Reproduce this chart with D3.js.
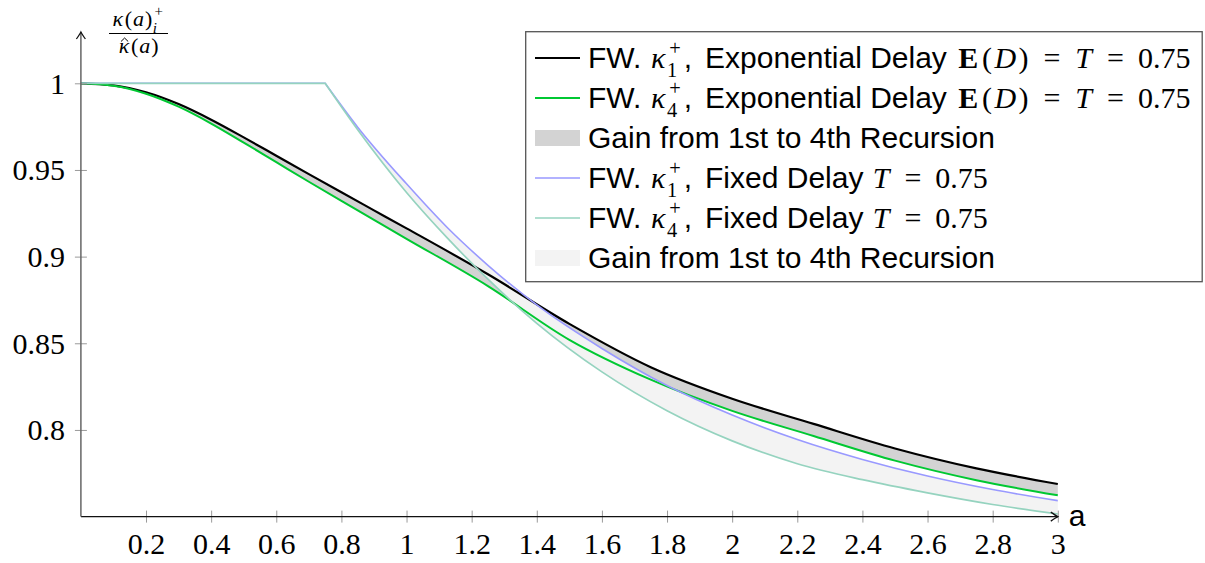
<!DOCTYPE html>
<html>
<head>
<meta charset="utf-8">
<script src="https://cdn.jsdelivr.net/npm/d3@7"></script>
<style>
  html, body { margin: 0; padding: 0; background: #fff; }
  svg { display: block; }
  text { white-space: pre; }
</style>
</head>
<body>
<svg id="chart" width="1205" height="563"></svg>
<script>
// ---- data ----------------------------------------------------------------
// Exponential delay, E(D) = T = 0.75 : 1st and 4th recursion
const aExp  = [0, 0.1, 0.2, 0.3, 0.4, 0.5, 0.6, 0.7, 0.8, 0.9, 1.0, 1.25, 1.5, 1.75, 2.0, 2.25, 2.5, 2.75, 3.0];
const expK1 = [1.0, 0.9988, 0.9948, 0.988, 0.979, 0.9688, 0.9582, 0.9476, 0.9371, 0.9267, 0.9163,
               0.8898, 0.8612, 0.8362, 0.818, 0.8035, 0.7893, 0.7778, 0.7688];
const expK4 = [1.0, 0.9986, 0.994, 0.9865, 0.9768, 0.9658, 0.9545, 0.9432, 0.9321, 0.9212, 0.9103,
               0.883, 0.852, 0.829, 0.811, 0.7965, 0.7823, 0.771, 0.7623];

// Fixed delay T = 0.75 : flat at 1 up to a = T, then decreasing
const aFix  = [0, 0.75, 0.85, 1.0, 1.125, 1.25, 1.4, 1.6, 1.8, 2.0, 2.2, 2.4, 2.6, 2.8, 3.0];
const fixK1 = [1.0, 1.0, 0.9747, 0.942, 0.9168, 0.895, 0.8721, 0.847, 0.8256, 0.8086, 0.7945, 0.783, 0.7734, 0.7656, 0.7592];
const fixK4 = [1.0, 1.0, 0.9732, 0.937, 0.9108, 0.887, 0.8615, 0.8335, 0.8111, 0.7937, 0.7805, 0.7713, 0.7637, 0.757, 0.7515];
const fixT  = 0.75;

const xTicks = [0.2, 0.4, 0.6, 0.8, 1, 1.2, 1.4, 1.6, 1.8, 2, 2.2, 2.4, 2.6, 2.8, 3];
const xTickLabels = ["0.2", "0.4", "0.6", "0.8", "1", "1.2", "1.4", "1.6", "1.8", "2", "2.2", "2.4", "2.6", "2.8", "3"];
const yTicks = [0.8, 0.85, 0.9, 0.95, 1];
const yTickLabels = ["0.8", "0.85", "0.9", "0.95", "1"];

// ---- styling ---------------------------------------------------------------
const SANS  = "'Liberation Sans', Arial, Helvetica, sans-serif";
const SERIF = "'Liberation Serif', 'Times New Roman', serif";
const C_K1EXP = "#000000";
const C_K4EXP = "#00c832";
const C_K1FIX = "#9999ff";
const C_K4FIX = "#95d3bf";
const C_GAIN_EXP = "#d3d3d3";
const C_GAIN_FIX = "#f3f3f3";

const svg = d3.select("#chart");

const x = d3.scaleLinear().domain([0, 3]).range([80.9, 1057.8]);
const y = d3.scaleLinear().domain([0.75, 1.0]).range([516.6, 83.3]);

const zip = (xs, ys) => xs.map((a, i) => ({ a, v: ys[i] }));
const expRows = aExp.map((a, i) => ({ a, k1: expK1[i], k4: expK4[i] }));
const fixRows = aFix.map((a, i) => ({ a, k1: fixK1[i], k4: fixK4[i] })).filter(d => d.a >= fixT);

const smoothLine = d3.line().x(d => x(d.a)).y(d => y(d.v)).curve(d3.curveMonotoneX);

// fixed-delay curve: straight plateau up to T, smooth decay afterwards
function fixedPath(xs, ys) {
  const pts = zip(xs, ys);
  const head = pts.filter(d => d.a <= fixT);
  const tail = pts.filter(d => d.a >= fixT);
  const plateau = d3.line().x(d => x(d.a)).y(d => y(d.v)).curve(d3.curveLinear)(head);
  return plateau + "L" + smoothLine(tail).slice(1);
}

// ---- gain areas ------------------------------------------------------------
svg.append("path")
  .attr("d", d3.area().x(d => x(d.a)).y0(d => y(d.k4)).y1(d => y(d.k1)).curve(d3.curveMonotoneX)(expRows))
  .attr("fill", C_GAIN_EXP);

svg.append("path")
  .attr("d", d3.area().x(d => x(d.a)).y0(d => y(d.k4)).y1(d => y(d.k1)).curve(d3.curveMonotoneX)(fixRows))
  .attr("fill", C_GAIN_FIX);

// ---- curves ----------------------------------------------------------------
svg.append("path").attr("d", smoothLine(zip(aExp, expK1)))
  .attr("fill", "none").attr("stroke", C_K1EXP).attr("stroke-width", 2.2);
svg.append("path").attr("d", smoothLine(zip(aExp, expK4)))
  .attr("fill", "none").attr("stroke", C_K4EXP).attr("stroke-width", 2);
svg.append("path").attr("d", fixedPath(aFix, fixK1))
  .attr("fill", "none").attr("stroke", C_K1FIX).attr("stroke-width", 1.6);
svg.append("path").attr("d", fixedPath(aFix, fixK4))
  .attr("fill", "none").attr("stroke", C_K4FIX).attr("stroke-width", 1.7);

// ---- axes ------------------------------------------------------------------
const xAxis = svg.append("g").attr("transform", `translate(0,${y(0.75)})`)
  .call(d3.axisBottom(x).tickValues(xTicks).tickFormat((d, i) => xTickLabels[i]).tickSize(6).tickSizeOuter(0));
xAxis.select(".domain").remove();
xAxis.selectAll(".tick line").attr("y1", -6).attr("y2", 6).attr("stroke", "#9a9a9a").attr("stroke-width", 1);
xAxis.selectAll(".tick text").attr("y", 37).attr("dy", 0)
  .attr("font-family", SERIF).attr("font-size", 30).attr("fill", "#000");

const yAxis = svg.append("g").attr("transform", `translate(${x(0)},0)`)
  .call(d3.axisLeft(y).tickValues(yTicks).tickFormat((d, i) => yTickLabels[i]).tickSize(6).tickSizeOuter(0));
yAxis.select(".domain").remove();
yAxis.selectAll(".tick line").attr("x1", -6).attr("x2", 6).attr("stroke", "#9a9a9a").attr("stroke-width", 1);
yAxis.selectAll(".tick text").attr("x", -16).attr("dy", "0.33em")
  .attr("font-family", SERIF).attr("font-size", 30).attr("fill", "#000");

// axis lines with arrow tips
const x0 = x(0), yb = y(0.75), xr = x(3), yt = 32;
svg.append("line").attr("x1", x0).attr("y1", yb).attr("x2", xr).attr("y2", yb)
  .attr("stroke", "#111").attr("stroke-width", 1.3);
svg.append("line").attr("x1", x0).attr("y1", yb).attr("x2", x0).attr("y2", yt)
  .attr("stroke", "#666").attr("stroke-width", 1.5);
svg.append("path")
  .attr("d", `M${xr - 7},${yb - 4.5} Q${xr - 2},${yb - 1} ${xr},${yb} Q${xr - 2},${yb + 1} ${xr - 7},${yb + 4.5}`)
  .attr("fill", "none").attr("stroke", "#111").attr("stroke-width", 1.3);
svg.append("path")
  .attr("d", `M${x0 - 4.5},${yt + 7} Q${x0 - 1},${yt + 2} ${x0},${yt} Q${x0 + 1},${yt + 2} ${x0 + 4.5},${yt + 7}`)
  .attr("fill", "none").attr("stroke", "#111").attr("stroke-width", 1.3);

svg.append("text").attr("x", xr + 11).attr("y", yb + 9)
  .attr("font-family", SANS).attr("font-size", 30).text("a");

// ---- rich text: sans words mixed with math glyphs on TeX-like advances -----
//  {t}               sans text, natural width
//  {m, adv, it, bf}  math glyph centred in a box of adv em
//  {num, adv}        math number, left aligned in adv em
//  {sp}              space in em
//  {sub, sup}        stacked sub/superscript (one text element, two tspans)
function writeRich(g, x0, base, pieces, size) {
  let cx = x0;
  pieces.forEach(p => {
    if (p.sub !== undefined) {
      const ss = size * 0.68;
      const st = g.append("text").attr("font-family", SERIF).attr("font-size", ss);
      st.append("tspan").attr("x", cx).attr("y", base + size * 0.3)
        .attr("font-style", p.subIt ? "italic" : "normal").text(p.sub);
      st.append("tspan").attr("x", cx + ss * 0.39).attr("y", base - size * 0.45)
        .attr("text-anchor", "middle").text(p.sup);
      cx += ss * 0.78 + 1;
    } else if (p.sp !== undefined) {
      cx += p.sp * size;
    } else if (p.m !== undefined) {
      g.append("text").attr("x", cx + p.adv * size / 2).attr("y", base).attr("text-anchor", "middle")
        .attr("font-family", SERIF).attr("font-size", size)
        .attr("font-style", p.it ? "italic" : "normal").attr("font-weight", p.bf ? "bold" : "normal")
        .text(p.m);
      cx += p.adv * size;
    } else if (p.num !== undefined) {
      g.append("text").attr("x", cx).attr("y", base)
        .attr("font-family", SERIF).attr("font-size", size).text(p.num);
      cx += p.adv * size;
    } else {
      const t = g.append("text").attr("x", cx).attr("y", base)
        .attr("font-family", SANS).attr("font-size", size)
        .attr("xml:space", "preserve").text(p.t);
      cx += t.node().getComputedTextLength();
    }
  });
  return cx - x0;
}

const KAPPA = { m: "κ", adv: 0.576, it: true };
const LP = { m: "(", adv: 0.389 }, RP = { m: ")", adv: 0.389 };
const REL = [{ sp: 0.36 }, { m: "=", adv: 0.778 }, { sp: 0.36 }];

// ---- y label: kappa(a)_i^+ / hat-kappa(a) ----------------------------------
const yl = svg.append("g");
const num = yl.append("g");
const wNum = writeRich(num, 0, 26, [KAPPA, LP, { m: "a", adv: 0.529, it: true }, RP, { sub: "i", sup: "+", subIt: true }], 22);
num.attr("transform", `translate(${138.5 - wNum / 2},0)`);
const den = yl.append("g");
const wDen = writeRich(den, 0, 53, [KAPPA, LP, { m: "a", adv: 0.529, it: true }, RP], 22);
den.attr("transform", `translate(${138.5 - wDen / 2},0)`);
// circumflex over the kappa
den.append("path").attr("d", "M3.2,41.5 L6.8,38 L10.4,41.5").attr("fill", "none").attr("stroke", "#000").attr("stroke-width", 1);
yl.append("line").attr("x1", 109).attr("x2", 168).attr("y1", 33.5).attr("y2", 33.5)
  .attr("stroke", "#000").attr("stroke-width", 1);

// ---- legend ----------------------------------------------------------------
const lg = svg.append("g");
lg.append("rect").attr("x", 525.7).attr("y", 31.7).attr("width", 676.5).attr("height", 250)
  .attr("fill", "#fff").attr("stroke", "#555").attr("stroke-width", 1.3);

const kappaHead = (n) => [{ t: "FW. " }, KAPPA, { sub: n, sup: "+" }, { t: "," }, { sp: 0.15 }];
const expTail = [{ t: " Exponential Delay " }, { m: "E", adv: 0.869, bf: true }, LP, { m: "D", adv: 0.828, it: true }, RP,
                 ...REL, { m: "T", adv: 0.62, it: true }, ...REL, { num: "0.75", adv: 1.778 }];
const fixTail = [{ t: " Fixed Delay " }, { m: "T", adv: 0.62, it: true }, ...REL, { num: "0.75", adv: 1.778 }];
const gainText = [{ t: "Gain from 1st to 4th Recursion" }];

const legendRows = [
  { kind: "line",  color: C_K1EXP, w: 2.2, cy: 58,  text: [...kappaHead("1"), ...expTail] },
  { kind: "line",  color: C_K4EXP, w: 2,   cy: 98,  text: [...kappaHead("4"), ...expTail] },
  { kind: "patch", color: C_GAIN_EXP,      cy: 138, text: gainText },
  { kind: "line",  color: C_K1FIX, w: 1.6, cy: 178, text: [...kappaHead("1"), ...fixTail] },
  { kind: "line",  color: C_K4FIX, w: 1.7, cy: 218, text: [...kappaHead("4"), ...fixTail] },
  { kind: "patch", color: C_GAIN_FIX,      cy: 258, text: gainText }
];

legendRows.forEach(r => {
  if (r.kind === "line") {
    lg.append("line").attr("x1", 535).attr("x2", 580).attr("y1", r.cy).attr("y2", r.cy)
      .attr("stroke", r.color).attr("stroke-width", r.w);
  } else {
    lg.append("rect").attr("x", 535).attr("y", r.cy - 8).attr("width", 45).attr("height", 16)
      .attr("fill", r.color);
  }
  writeRich(lg, 588, r.cy + 10, r.text, 30);
});
</script>
</body>
</html>
